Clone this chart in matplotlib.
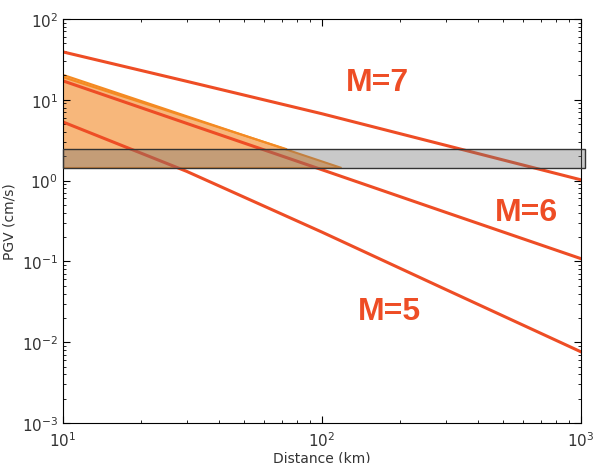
import numpy as np
import matplotlib
matplotlib.use("Agg")
import matplotlib.pyplot as plt
from matplotlib.patches import Polygon, Rectangle

dist = [10, 30, 100, 300, 1000]
# PGV (cm/s) for each magnitude
pgv_m7 = [39.0, 16.9, 6.7, 2.73, 1.02]
pgv_m6 = [17.1, 5.1, 1.36, 0.405, 0.108]
pgv_m5 = [5.3, 1.30, 0.23, 0.045, 0.0076]

labels = ["M=7", "M=6", "M=5"]
label_pos = [(164, 16.6), (617, 0.41), (183, 0.0243)]

# orange shaded triangle (distance, pgv)
tri_x = [10, 119, 10]
tri_y = [20.3, 1.43, 1.43]
# second orange line just inside the triangle
edge_x = [10, 72.5]
edge_y = [19.0, 2.46]

# gray band
band_lo, band_hi = 1.43, 2.46
band_x0, band_x1 = 10, 1036

red = "#ee4d25"
orange = "#f48a22"

fig = plt.figure(figsize=(5.94, 4.64), dpi=100)
ax = fig.add_axes([0.106, 0.0862, 0.872, 0.871])
ax.set_xscale("log")
ax.set_yscale("log")

tri = Polygon(list(zip(tri_x, tri_y)), closed=True, facecolor="#f7b77b",
              edgecolor=orange, lw=1.5, zorder=1)
ax.add_patch(tri)
ax.plot(edge_x, edge_y, color=orange, lw=1.5, zorder=1.5)

for ys in (pgv_m7, pgv_m6, pgv_m5):
    ax.plot(dist, ys, color=red, lw=2.2, zorder=2)

band = Rectangle((band_x0, band_lo), band_x1 - band_x0, band_hi - band_lo,
                 facecolor=(0.45, 0.45, 0.45, 0.38), edgecolor="#333333",
                 lw=1.0, zorder=3, clip_on=False)
ax.add_patch(band)

for txt, (xx, yy) in zip(labels, label_pos):
    ax.text(xx, yy, txt, color=red, fontsize=23, fontweight="bold",
            family="Liberation Sans", ha="center", va="center")

ax.set_xlim(10, 1000)
ax.set_ylim(1e-3, 1e2)
ax.set_xlabel("Distance (km)", fontsize=10, labelpad=1, color="#333333")
ax.set_ylabel("PGV (cm/s)", fontsize=10, color="#333333")
ax.tick_params(which="both", direction="in", top=True, right=True,
               labelsize=11, labelcolor="#333333")
ax.tick_params(which="major", length=5)
ax.tick_params(which="minor", length=2.5)
ax.tick_params(axis="x", pad=5)

plt.savefig("out.png", dpi=100)
